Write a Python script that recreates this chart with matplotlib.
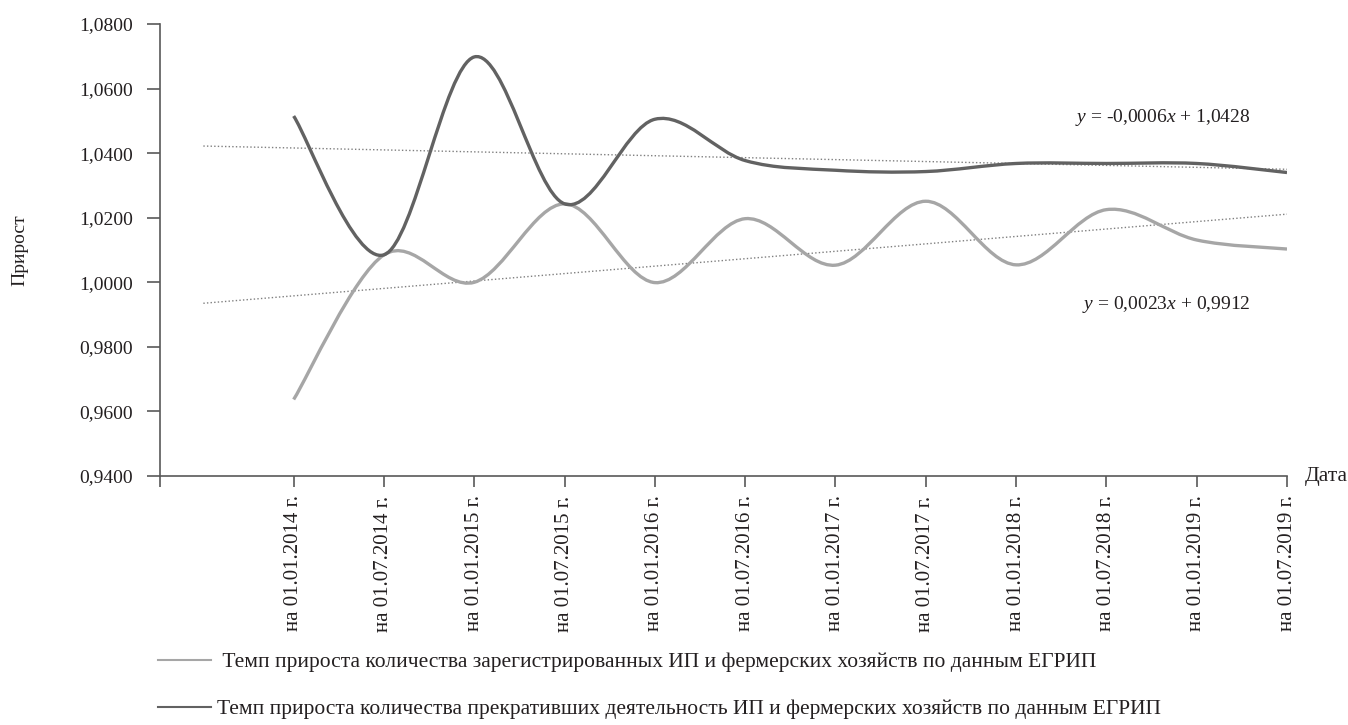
import numpy as np
import matplotlib
matplotlib.use("Agg")
import matplotlib.pyplot as plt
from matplotlib.path import Path
from matplotlib.patches import PathPatch
from matplotlib.lines import Line2D

plt.rcParams['font.family'] = ['Liberation Serif', 'DejaVu Serif']
plt.rcParams['mathtext.fontset'] = 'custom'
plt.rcParams['mathtext.rm'] = 'Liberation Serif'
plt.rcParams['mathtext.it'] = 'Liberation Serif:italic'

# data
dates = ['на 01.01.2014 г.', 'на 01.07.2014 г.', 'на 01.01.2015 г.', 'на 01.07.2015 г.',
         'на 01.01.2016 г.', 'на 01.07.2016 г.', 'на 01.01.2017 г.', 'на 01.07.2017 г.',
         'на 01.01.2018 г.', 'на 01.07.2018 г.', 'на 01.01.2019 г.', 'на 01.07.2019 г.']
registered = [0.9637, 1.0085, 1.0000, 1.0243, 0.9999, 1.0197, 1.0053, 1.0251,
              1.0054, 1.0225, 1.0131, 1.0103]
closed = [1.0515, 1.0085, 1.0698, 1.0243, 1.0505, 1.0377, 1.0347, 1.0343,
          1.0368, 1.0368, 1.0368, 1.0340]
yticks = [0.94, 0.96, 0.98, 1.00, 1.02, 1.04, 1.06, 1.08]

# linear trends as shown on the chart (x counted from 1 at the empty first row)
trend_reg = (0.0023, 0.9912)
trend_closed = (-0.0006, 1.0428)

label_reg = ' Темп прироста количества зарегистрированных ИП и фермерских хозяйств по данным ЕГРИП'
label_closed = 'Темп прироста количества прекративших деятельность ИП и фермерских хозяйств по данным ЕГРИП'

TEXT = '#231f20'
AXIS = '#595959'
LIGHT = '#a6a6a6'
DARK = '#626262'


def smooth_path(xs, ys):
    # Excel-like smoothed line: cubic bezier through the points
    pts = np.column_stack([xs, ys])
    ext = np.vstack([pts[0], pts, pts[-1]])
    verts = [pts[0]]
    codes = [Path.MOVETO]
    for i in range(len(pts) - 1):
        p0, p1, p2, p3 = ext[i], ext[i + 1], ext[i + 2], ext[i + 3]
        verts += [p1 + (p2 - p0) / 6, p2 - (p3 - p1) / 6, p2]
        codes += [Path.CURVE4] * 3
    return Path(verts, codes)


fig = plt.figure(figsize=(13.48, 7.25), dpi=100)
ax = fig.add_axes([160 / 1348, 249 / 725, (1287 - 160) / 1348, (476 - 24) / 725])

x = np.arange(2, 2 + len(dates))

for vals, col in [(registered, LIGHT), (closed, DARK)]:
    ax.add_patch(PathPatch(smooth_path(x, vals), fill=False, edgecolor=col,
                           lw=2.4, capstyle='butt', joinstyle='round', zorder=3))

xt = np.array([1, x[-1]])
for (k, b) in [trend_reg, trend_closed]:
    ax.plot(xt, k * xt + b, color='#7f7f7f', lw=1.0, linestyle=(0, (1, 1.6)), zorder=2)

ax.set_xlim(x[0] - 1.48, x[-1])
ax.set_ylim(0.94, 1.08)
ax.set_yticks(yticks)
ax.set_yticklabels([f'{v:.4f}'.replace('.', ',') for v in yticks])
ax.set_xticks([x[0] - 1.48] + list(x))
ax.set_xticklabels([''] + dates, rotation=90)

for s in ['top', 'right']:
    ax.spines[s].set_visible(False)
for s in ['left', 'bottom']:
    ax.spines[s].set_color(AXIS)
    ax.spines[s].set_linewidth(1.2)
ax.tick_params(axis='y', length=9.5, width=1.2, color=AXIS, pad=10, labelsize=14, labelcolor=TEXT)
ax.tick_params(axis='x', length=8, width=1.2, color=AXIS, pad=6, labelsize=15, labelcolor=TEXT)

fig.text(20 / 1348, 1 - 250 / 725, 'Прирост', rotation=90, ha='center', va='center',
         fontsize=14, color=TEXT)
fig.text(1305 / 1348, 1 - 477 / 725, 'Дата', ha='left', va='center', fontsize=15.5, color=TEXT)

fig.text(1163 / 1348, 1 - 117 / 725, r'$\mathit{y}$ = -0,0006$\mathit{x}$ + 1,0428',
         ha='center', va='center', fontsize=14, color=TEXT)
fig.text(1166 / 1348, 1 - 305 / 725, r'$\mathit{y}$ = 0,0023$\mathit{x}$ + 0,9912',
         ha='center', va='center', fontsize=14, color=TEXT)

handles = [Line2D([], [], color=LIGHT, lw=1.5), Line2D([], [], color=DARK, lw=1.5)]
fig.legend(handles, [label_reg, label_closed], loc='upper left',
           bbox_to_anchor=(158 / 1348, 1 - 652 / 725), frameon=False,
           fontsize=15.5, handlelength=2.46, handletextpad=0.3, labelspacing=1.25,
           borderpad=0, borderaxespad=0, labelcolor=TEXT)

fig.savefig('out.png', dpi=100)
